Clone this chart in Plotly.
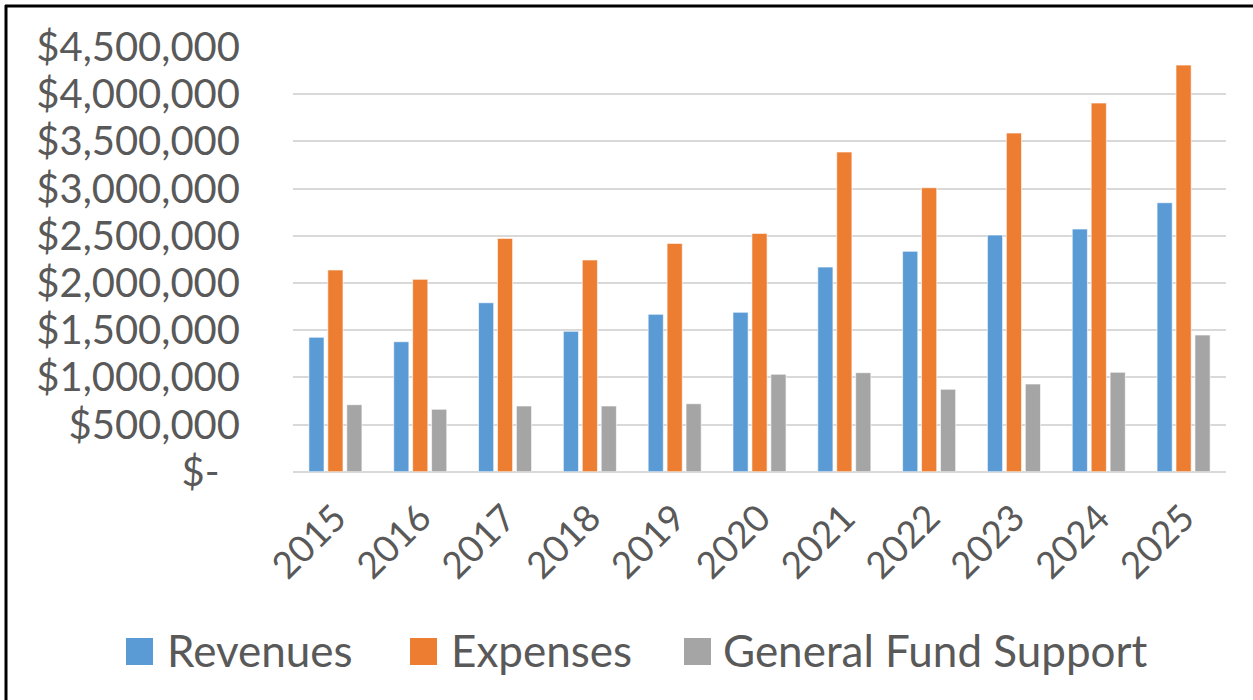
import plotly.graph_objects as go

years = ["2015", "2016", "2017", "2018", "2019", "2020", "2021", "2022", "2023", "2024", "2025"]
revenues = [1424000, 1377000, 1790000, 1487000, 1667000, 1689000, 2168000, 2335000, 2507000, 2571000, 2850000]
expenses = [2137000, 2038000, 2472000, 2243000, 2419000, 2525000, 3387000, 3009000, 3588000, 3906000, 4308000]
general_fund = [710000, 661000, 696000, 696000, 720000, 1032000, 1049000, 873000, 929000, 1053000, 1448000]

series_names = ["Revenues", "Expenses", "General Fund Support"]
series_colors = ["#5B9BD5", "#ED7D31", "#A5A5A5"]

y_tickvals = [0, 500000, 1000000, 1500000, 2000000, 2500000, 3000000, 3500000, 4000000, 4500000]
y_ticktext = ["$-\u00a0\u00a0", "$500,000", "$1,000,000", "$1,500,000", "$2,000,000",
              "$2,500,000", "$3,000,000", "$3,500,000", "$4,000,000", "$4,500,000"]

W, H = 1253, 700
FONT = "Lato"
TXT = "#595959"

fig = go.Figure()
for name, vals, col in zip(series_names, [revenues, expenses, general_fund], series_colors):
    fig.add_trace(go.Bar(x=years, y=vals, name=name,
                         marker=dict(color=col, line=dict(color="rgba(255,255,255,0.6)", width=1)),
                         showlegend=False))

def px(x):
    return x / W

def py(y):
    return (H - y) / H

# manual legend
legend_items = [(126, 165), (410, 449), (684, 721)]
shapes = []
annotations = []
for (sx, tx), name, col in zip(legend_items, series_names, series_colors):
    shapes.append(dict(type="rect", xref="paper", yref="paper", x0=px(sx), x1=px(sx + 27), y0=py(665), y1=py(638),
                       fillcolor=col, line=dict(width=0)))
    annotations.append(dict(xref="paper", yref="paper", x=px(tx), y=py(650), text=name, showarrow=False,
                            xanchor="left", yanchor="middle", font=dict(family=FONT, size=44, color=TXT)))

# border (left and top visible)
shapes.append(dict(type="line", xref="paper", yref="paper", x0=px(6), x1=px(6), y0=py(5), y1=py(705),
                   line=dict(color="black", width=3)))
shapes.append(dict(type="line", xref="paper", yref="paper", x0=px(5), x1=px(1260), y0=py(6), y1=py(6),
                   line=dict(color="black", width=3)))

fig.update_layout(
    width=W, height=H,
    margin=dict(l=0, r=0, t=0, b=0, pad=0, autoexpand=False),
    paper_bgcolor="white", plot_bgcolor="white",
    barmode="group", bargap=0.33, bargroupgap=0.2,
    font=dict(family=FONT, color=TXT),
    xaxis=dict(domain=[293 / W, 1226 / W], type="category", tickangle=-45, showgrid=False, showline=False,
               ticks="", tickfont=dict(family=FONT, size=37, color=TXT), ticklabelstandoff=16, automargin=False),
    yaxis=dict(domain=[py(471.7), py(47)], range=[0, 4500000], tickvals=y_tickvals, ticktext=y_ticktext,
               showgrid=True, gridcolor="#D9D9D9", gridwidth=2, zeroline=True, zerolinecolor="#D9D9D9",
               zerolinewidth=2, showline=False, ticks="", tickfont=dict(family=FONT, size=40, color=TXT),
               ticklabelstandoff=52, automargin=False),
    shapes=shapes,
    annotations=annotations,
)

fig.write_html("out.html", config={"displayModeBar": False},
               post_script="document.body.style.margin='0px';document.body.style.overflow='hidden';")
